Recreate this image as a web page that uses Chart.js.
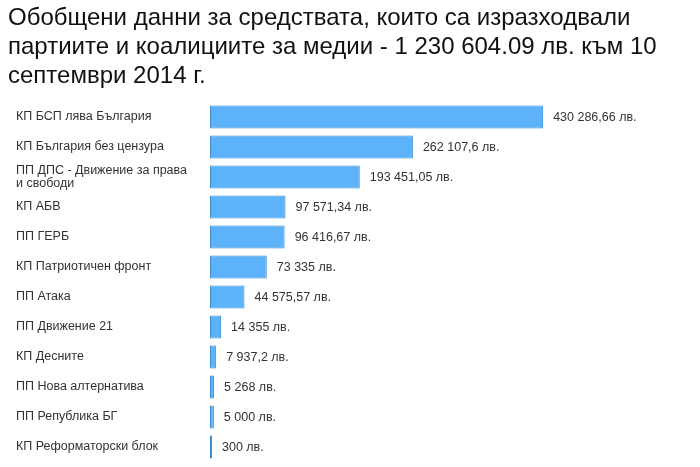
<!DOCTYPE html>
<html>
<head>
<meta charset="utf-8">
<script src="https://cdn.jsdelivr.net/npm/chart.js@4"></script>
<style>
  html, body { margin: 0; padding: 0; background: #fff; }
  #wrap { width: 700px; height: 467px; }
</style>
</head>
<body>
<div id="wrap"><canvas id="mediaChart" width="700" height="467"></canvas></div>
<script>
// данни
const titleLines = [
    'Обобщени данни за средствата, които са изразходвали',
    'партиите и коалициите за медии - 1 230 604.09 лв. към 10',
    'септември 2014 г.'
];
const parties = [
    'КП БСП лява България',
    'КП България без цензура',
    ['ПП ДПС - Движение за права', 'и свободи'],
    'КП АБВ',
    'ПП ГЕРБ',
    'КП Патриотичен фронт',
    'ПП Атака',
    'ПП Движение 21',
    'КП Десните',
    'ПП Нова алтернатива',
    'ПП Република БГ',
    'КП Реформаторски блок'
];
const amounts = [430286.66, 262107.6, 193451.05, 97571.34, 96416.67, 73335, 44575.57, 14355, 7937.2, 5268, 5000, 300];
const amountLabels = ['430 286,66 лв.', '262 107,6 лв.', '193 451,05 лв.', '97 571,34 лв.', '96 416,67 лв.',
    '73 335 лв.', '44 575,57 лв.', '14 355 лв.', '7 937,2 лв.', '5 268 лв.', '5 000 лв.', '300 лв.'];

// надписи след всяка лента + заглавието малко по-наляво
const valueLabelPlugin = {
    id: 'valueLabels',
    afterLayout(chart) {
        if (chart.titleBlock) chart.titleBlock.left = 8;
    },
    afterDatasetsDraw(chart) {
        const ctx = chart.ctx;
        const meta = chart.getDatasetMeta(0);
        ctx.save();
        ctx.font = '12.5px Arial, "Liberation Sans", sans-serif';
        ctx.fillStyle = '#333';
        ctx.textAlign = 'left';
        ctx.textBaseline = 'middle';
        meta.data.forEach((bar, i) => {
            ctx.fillText(amountLabels[i], bar.x + 10, bar.y + 1);
        });
        ctx.restore();
    }
};

new Chart(document.getElementById('mediaChart'), {
    type: 'bar',
    data: {
        labels: parties,
        datasets: [{
            data: amounts,
            backgroundColor: '#5cb3fa',
            borderColor: '#3b8ed6',
            borderWidth: 1,
            borderSkipped: false,
            minBarLength: 2,
            barPercentage: 0.77,
            categoryPercentage: 1
        }]
    },
    options: {
        indexAxis: 'y',
        responsive: false,
        animation: false,
        layout: { padding: { left: 16, right: 10, top: 0, bottom: 5 } },
        plugins: {
            legend: { display: false },
            tooltip: { enabled: false },
            title: {
                display: true,
                text: titleLines,
                align: 'start',
                color: '#111',
                font: { family: 'Arial, "Liberation Sans", sans-serif', size: 24, weight: 'normal', lineHeight: 1.2 },
                padding: { top: 4, bottom: 11.6 },
                fullSize: true
            }
        },
        scales: {
            x: {
                display: false,
                min: 0,
                max: 620000
            },
            y: {
                grid: { display: false },
                border: { display: false },
                afterFit(scale) {
                    scale.width = 194;
                    scale.paddingTop = 0;
                    scale.paddingBottom = 0;
                },
                ticks: {
                    crossAlign: 'far',
                    autoSkip: false,
                    padding: 0,
                    color: '#333',
                    font: { family: 'Arial, "Liberation Sans", sans-serif', size: 12.5, lineHeight: 1.1 }
                }
            }
        }
    },
    plugins: [valueLabelPlugin]
});
</script>
</body>
</html>
